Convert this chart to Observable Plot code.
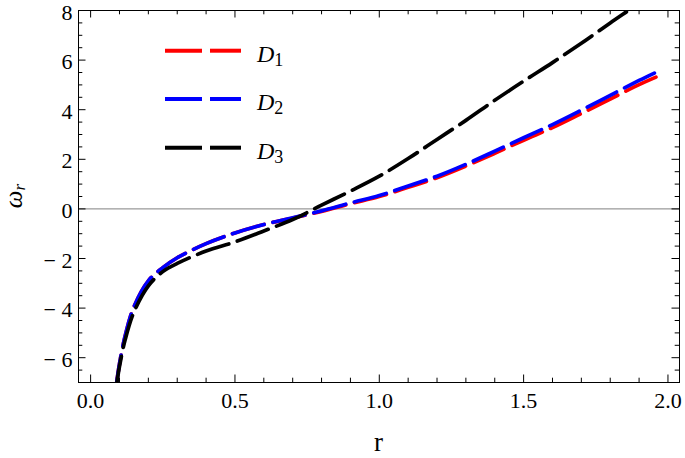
<!DOCTYPE html>
<html>
<head>
<meta charset="utf-8">
<script src="https://cdn.jsdelivr.net/npm/d3@7"></script>
<script src="https://cdn.jsdelivr.net/npm/@observablehq/plot@0.6"></script>
<style>
  html, body { margin: 0; padding: 0; background: #fff; }
  svg { display: block; }
  svg text, svg tspan { font-family: "Liberation Serif", "DejaVu Serif", serif !important; }
</style>
</head>
<body>
<div id="chart"></div>
<script>
// Data
const r  = [0.088, 0.1, 0.12, 0.15, 0.2, 0.25, 0.3, 0.4, 0.5, 0.6, 0.7, 0.8, 0.9, 1.0, 1.1, 1.2, 1.3, 1.4, 1.5, 1.6, 1.7, 1.8, 1.9, 1.97];
const D1 = [-7.2, -6.25, -5.1, -3.95, -2.9, -2.37, -1.97, -1.4, -0.97, -0.63, -0.37, -0.1, 0.21, 0.5, 0.87, 1.26, 1.73, 2.24, 2.77, 3.28, 3.85, 4.43, 5.01, 5.37];
const D2 = [-7.2, -6.25, -5.1, -3.95, -2.9, -2.37, -1.97, -1.4, -0.97, -0.63, -0.36, -0.08, 0.24, 0.54, 0.92, 1.32, 1.8, 2.33, 2.87, 3.4, 3.98, 4.58, 5.18, 5.57];
const D3 = [-7.25, -6.35, -5.26, -4.16, -3.1, -2.53, -2.2, -1.7, -1.33, -0.89, -0.43, 0.15, 0.72, 1.32, 2.03, 2.8, 3.57, 4.38, 5.15, 5.9, 6.68, 7.5, 8.3, 8.9];

const seriesNames = ["D1", "D2", "D3"];
const seriesColors = ["#ff0000", "#0000ff", "#000000"];
const seriesValues = [D1, D2, D3];

const xMajor = [0, 0.5, 1.0, 1.5, 2.0];
const xMinor = d3.range(0, 21).map(i => i / 10).filter(v => !xMajor.some(m => Math.abs(m - v) < 1e-9));
const yMajor = [-6, -4, -2, 0, 2, 4, 6, 8];
const yMinor = d3.range(-14, 17).map(i => i / 2).filter(v => !yMajor.includes(v));

const W = 685, H = 458;
const mL = 78, mT = 10, mR = 6, mB = 76;
const pw = W - mL - mR, ph = H - mT - mB;
const majLen = 7.5, minLen = 4.3;

const lineMarks = seriesValues.map((vals, k) =>
  Plot.line(r.map((x, i) => ({r: x, w: vals[i]})), {
    x: "r", y: "w", stroke: seriesColors[k], strokeWidth: 3.7,
    strokeDasharray: "33,9", curve: "catmull-rom", clip: true
  })
);

const fmtY = d => d < 0 ? "\u2212 " + Math.abs(d) : String(d);
const serif = "Liberation Serif, DejaVu Serif, serif";

const chart = Plot.plot({
  width: W, height: H,
  marginLeft: mL, marginTop: mT, marginRight: mR, marginBottom: mB,
  style: {fontFamily: serif, fontSize: "22px", color: "#000", background: "#fff"},
  x: {domain: [-0.042, 2.04]},
  y: {domain: [-7, 8]},
  marks: [
    Plot.ruleY([0], {stroke: "#808080", strokeWidth: 1}),
    ...lineMarks,
    Plot.frame({stroke: "#000", strokeWidth: 1}),
    // inward ticks, bottom & top
    Plot.tickX(xMajor, {x: d => d, insetTop: ph - majLen, stroke: "#000"}),
    Plot.tickX(xMinor, {x: d => d, insetTop: ph - minLen, stroke: "#000"}),
    Plot.tickX(xMajor, {x: d => d, insetBottom: ph - majLen, stroke: "#000"}),
    Plot.tickX(xMinor, {x: d => d, insetBottom: ph - minLen, stroke: "#000"}),
    // inward ticks, left & right
    Plot.tickY(yMajor, {y: d => d, insetRight: pw - majLen, stroke: "#000"}),
    Plot.tickY(yMinor, {y: d => d, insetRight: pw - minLen, stroke: "#000"}),
    Plot.tickY(yMajor, {y: d => d, insetLeft: pw - majLen, stroke: "#000"}),
    Plot.tickY(yMinor, {y: d => d, insetLeft: pw - minLen, stroke: "#000"}),
    Plot.axisX({ticks: xMajor, tickSize: 0, tickPadding: 10, tickFormat: d => d.toFixed(1), label: null, fontSize: 22}),
    Plot.axisY({ticks: yMajor, tickSize: 0, tickPadding: 6, tickFormat: fmtY, label: null, dy: 2, fontSize: 22})
  ]
});

document.getElementById("chart").appendChild(chart);
const svg = d3.select(chart);

// x-axis title
svg.append("text")
  .attr("x", (mL + (W - mR)) / 2).attr("y", 451)
  .attr("text-anchor", "middle")
  .attr("font-family", serif).attr("font-size", 27)
  .attr("fill", "#000")
  .text("r");

// y-axis title (ω_r)
const yt = svg.append("text")
  .attr("transform", `translate(22,${mT + ph / 2}) rotate(-90)`)
  .attr("text-anchor", "middle")
  .attr("font-family", serif).attr("font-size", 25)
  .attr("font-style", "italic")
  .attr("fill", "#000");
yt.append("tspan").text("ω");
yt.append("tspan").attr("font-size", 17).attr("dy", 3).text("r");

// legend
const legY = [50.7, 99, 147.7];
const leg = svg.append("g");
seriesNames.forEach((name, k) => {
  const y = legY[k];
  leg.append("line").attr("x1", 165).attr("x2", 202).attr("y1", y).attr("y2", y)
    .attr("stroke", seriesColors[k]).attr("stroke-width", 4);
  leg.append("line").attr("x1", 210).attr("x2", 241).attr("y1", y).attr("y2", y)
    .attr("stroke", seriesColors[k]).attr("stroke-width", 4);
  const t = leg.append("text")
    .attr("x", 257).attr("y", y + 11)
    .attr("text-anchor", "start")
    .attr("font-family", serif).attr("font-size", 24).attr("fill", "#000");
  t.append("tspan").attr("font-style", "italic").text(name[0]);
  t.append("tspan").attr("font-size", 18).attr("dy", 4).text(name.slice(1));
});
</script>
</body>
</html>
